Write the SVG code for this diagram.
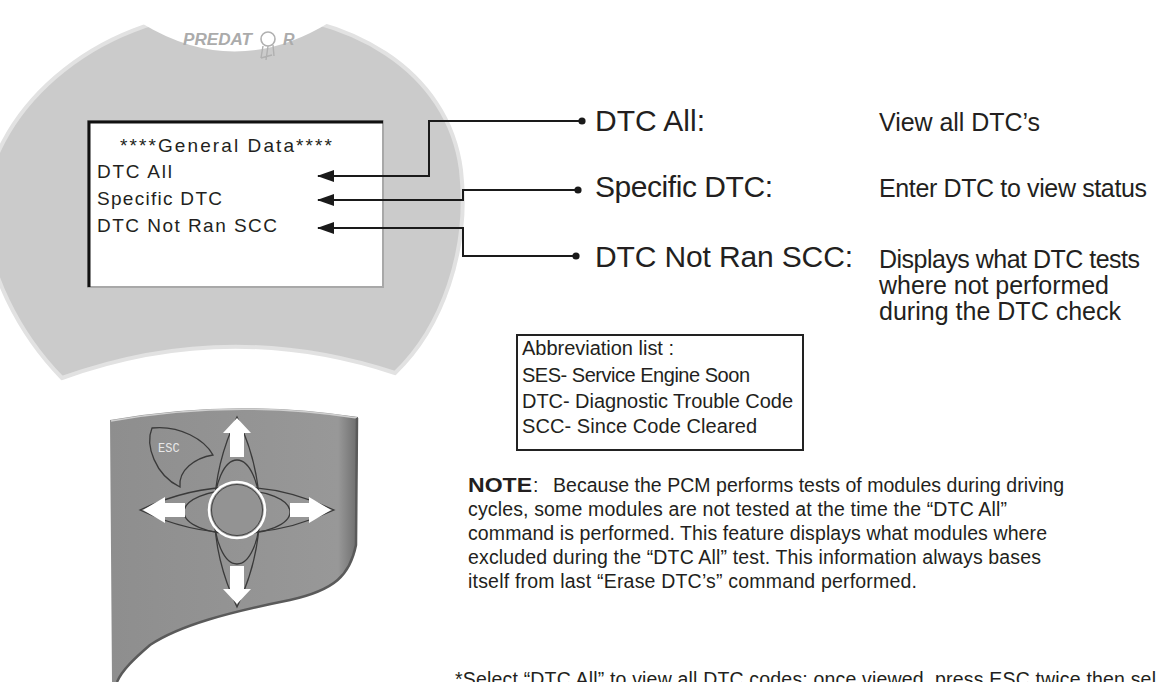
<svg xmlns="http://www.w3.org/2000/svg" width="1156" height="682" viewBox="0 0 1156 682">
<defs>
<style>
.t{font-family:"Liberation Sans",Arial,sans-serif;fill:#231f20}
.lbl{font-size:30px}
.desc{font-size:25px}
.scr{font-size:19px}
.abb{font-size:20px}
.note{font-size:19.5px}
.conn{fill:none;stroke:#1a1a1a;stroke-width:2}
.petal{fill:none;stroke:#3a3a3a;stroke-width:1.3}
.wa{fill:#ffffff}
</style>
<marker id="ah" viewBox="0 0 17 12" refX="16" refY="6" markerWidth="17" markerHeight="12" markerUnits="userSpaceOnUse" orient="auto"><path d="M0,0 L17,6 L0,12 Z" fill="#1a1a1a"/></marker>
<marker id="dot" viewBox="-4 -4 8 8" refX="0" refY="0" markerWidth="8" markerHeight="8" markerUnits="userSpaceOnUse"><circle r="3.6" fill="#1a1a1a"/></marker>
<linearGradient id="padg" x1="0" y1="0" x2="1" y2="0"><stop offset="0" stop-color="#8e8e8e"/><stop offset="0.92" stop-color="#989898"/><stop offset="1" stop-color="#6c6c6c"/></linearGradient>
</defs>
<rect width="1156" height="682" fill="#ffffff"/>

<g id="device-top">
<path d="M232,12 C350,12 448,70 461,170 C470,250 442,328 395,373 Q228,318 62,378 C20,335 -15,270 -15,210 C-15,120 90,12 232,12 Z" fill="#cbcbcb" stroke="#e2e2e2" stroke-width="4"/>
<path d="M143,24 Q236,-8 330,22 Q236,80 143,24 Z" fill="#ffffff"/>
<text x="183" y="45" font-family="Liberation Sans, Arial, sans-serif" font-style="italic" font-weight="bold" font-size="16" fill="#ababab" textLength="69" lengthAdjust="spacingAndGlyphs">PREDAT</text>
<circle cx="268" cy="39" r="7" fill="none" stroke="#b0b0b0" stroke-width="1.6"/>
<path d="M263,46 L261,58 M268,46 L266,60 M273,45 L274,56 M261,58 L272,55" fill="none" stroke="#b0b0b0" stroke-width="1.4"/>
<text x="283" y="45" font-family="Liberation Sans, Arial, sans-serif" font-style="italic" font-weight="bold" font-size="16" fill="#ababab">R</text>
</g>

<g id="screen">
<rect x="88" y="121" width="295" height="166" fill="#ffffff" stroke="#a8a8a8" stroke-width="2"/>
<path d="M89,287 V122 H383" fill="none" stroke="#111111" stroke-width="3"/>
<text class="t scr" x="120" y="152" textLength="212" lengthAdjust="spacing">****General Data****</text>
<text class="t scr" x="97" y="178" textLength="75" lengthAdjust="spacing">DTC All</text>
<text class="t scr" x="97" y="205" textLength="125" lengthAdjust="spacing">Specific DTC</text>
<text class="t scr" x="97" y="232" textLength="180" lengthAdjust="spacing">DTC Not Ran SCC</text>
</g>

<g id="connectors">
<path class="conn" d="M582,121 H429 V176 H318" marker-start="url(#dot)" marker-end="url(#ah)"/>
<path class="conn" d="M578,190 H463 V200 H318" marker-start="url(#dot)" marker-end="url(#ah)"/>
<path class="conn" d="M576,256 H463 V228 H318" marker-start="url(#dot)" marker-end="url(#ah)"/>
</g>

<g id="label-dtc-all">
<text class="t lbl" x="595" y="131" textLength="110" lengthAdjust="spacing">DTC All:</text>
<text class="t desc" x="879" y="131" textLength="161" lengthAdjust="spacing">View all DTC’s</text>
</g>
<g id="label-specific-dtc">
<text class="t lbl" x="595" y="197" textLength="178" lengthAdjust="spacing">Specific DTC:</text>
<text class="t desc" x="879" y="197" textLength="268" lengthAdjust="spacing">Enter DTC to view status</text>
</g>
<g id="label-dtc-not-ran">
<text class="t lbl" x="595" y="267" textLength="258" lengthAdjust="spacing">DTC Not Ran SCC:</text>
<text class="t desc" x="879" y="268" textLength="261" lengthAdjust="spacing">Displays what DTC tests</text>
<text class="t desc" x="879" y="294" textLength="230" lengthAdjust="spacing">where not performed</text>
<text class="t desc" x="879" y="320" textLength="242" lengthAdjust="spacing">during the DTC check</text>
</g>

<g id="abbreviations">
<rect x="517" y="335" width="286" height="115" fill="#ffffff" stroke="#222222" stroke-width="2"/>
<text class="t abb" x="522" y="355" textLength="152" lengthAdjust="spacing">Abbreviation list :</text>
<text class="t abb" x="522" y="382" textLength="228" lengthAdjust="spacing">SES- Service Engine Soon</text>
<text class="t abb" x="522" y="408" textLength="271" lengthAdjust="spacing">DTC- Diagnostic Trouble Code</text>
<text class="t abb" x="522" y="433" textLength="235" lengthAdjust="spacing">SCC- Since Code Cleared</text>
</g>

<g id="keypad">
<path d="M110,420 Q233,398 358,417 L356,545 C350,575 335,590 290,600 C230,612 180,625 150,645 C135,658 122,670 117,682 L112,682 Z" fill="url(#padg)"/>
<path d="M111,421 Q233,399 357,418" fill="none" stroke="#cfcfcf" stroke-width="1.5"/>
<path d="M357,418 L356,545 C350,575 335,590 290,600 C230,612 180,625 150,645 C135,658 122,670 117,682" fill="none" stroke="#5a5a5a" stroke-width="2.5"/>
<path class="petal" d="M237,417 Q282,512 237,607 Q192,512 237,417 Z"/>
<path class="petal" d="M140,510 Q237,556 334,510 Q237,464 140,510 Z"/>
<ellipse class="petal" cx="237" cy="512" rx="53" ry="22"/>
<ellipse class="petal" cx="237" cy="512" rx="23" ry="52"/>
<path class="petal" d="M213,455 C205,440 180,425 152,428 C145,445 155,475 180,487 C178,470 195,458 213,455 Z"/>
<text x="158" y="452" font-family="Liberation Mono, monospace" font-size="12" fill="#e8e8e8">ESC</text>
<circle cx="237" cy="510" r="28" fill="#939393" stroke="#ffffff" stroke-width="2.5"/>
<circle cx="237" cy="510" r="25.5" fill="none" stroke="#444444" stroke-width="1"/>
<path class="wa" d="M237,418 L251,433 L244,433 L244,457 L230,457 L230,433 L223,433 Z"/>
<path class="wa" d="M237,604 L251,589 L244,589 L244,566 L230,566 L230,589 L223,589 Z"/>
<path class="wa" d="M143,510 L165,497 L165,503 L185,503 L185,517 L165,517 L165,523 Z"/>
<path class="wa" d="M331,510 L309,497 L309,503 L290,503 L290,517 L309,517 L309,523 Z"/>
</g>

<g id="note">
<text class="t" x="468" y="492" font-weight="bold" font-size="21" textLength="64" lengthAdjust="spacingAndGlyphs">NOTE</text>
<text class="t note" x="533" y="492">:</text>
<text class="t note" x="553" y="492" textLength="511" lengthAdjust="spacing">Because the PCM performs tests of modules during driving</text>
<text class="t note" x="468" y="516" textLength="539" lengthAdjust="spacing">cycles, some modules are not tested at the time the “DTC All”</text>
<text class="t note" x="468" y="540" textLength="579" lengthAdjust="spacing">command is performed. This feature displays what modules where</text>
<text class="t note" x="468" y="564" textLength="573" lengthAdjust="spacing">excluded during the “DTC All” test. This information always bases</text>
<text class="t note" x="468" y="588" textLength="449" lengthAdjust="spacing">itself from last “Erase DTC’s” command performed.</text>
</g>

<g id="footnote">
<text class="t note" x="455" y="686" textLength="701" lengthAdjust="spacing">*Select “DTC All” to view all DTC codes; once viewed, press ESC twice then sel</text>
</g>
</svg>
